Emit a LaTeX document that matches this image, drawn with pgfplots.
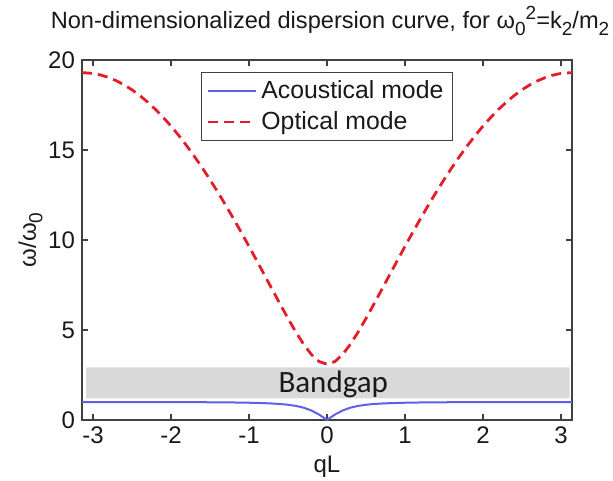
\documentclass[border=0pt]{standalone}
\usepackage{fontspec}
\setmainfont{Liberation Sans}
\newfontfamily\bandfont{Carlito}
\usepackage{pgfplots}
\pgfplotsset{compat=1.18}
\definecolor{acblue}{RGB}{95,95,232}
\definecolor{opred}{RGB}{226,30,40}
\definecolor{gapgray}{RGB}{217,217,217}
\newcommand{\sbs}[1]{\raisebox{-3.2pt}{\fontsize{9.5}{11}\selectfont #1}}
\newcommand{\sps}[1]{\raisebox{4.5pt}{\fontsize{9.5}{11}\selectfont #1}}
\begin{document}
\begin{tikzpicture}
\begin{axis}[
  scale only axis,
  width=245pt, height=180pt,
  xmin=-3.14159, xmax=3.14159,
  ymin=0, ymax=20,
  xtick={-3,-2,-1,0,1,2,3},
  ytick={0,5,10,15,20},
  tick align=inside,
  major tick length=3pt,
  axis line style={black!75, line width=0.6pt},
  tick style={black!75, line width=0.6pt},
  /pgf/number format/assume math mode=true,
  tick label style={font=\fontsize{12}{14}\selectfont, text=black!90},
  xlabel={qL},
  ylabel={ω/ω\sbs{0}},
  xlabel style={yshift=1pt},
  ylabel style={yshift=-4pt},
  label style={font=\fontsize{12}{14}\selectfont, text=black!90},
  title={Non-dimensionalized dispersion curve, for ω\sbs{0}\sps{2}=k\sbs{2}/m\sbs{2}},
  title style={at={(axis description cs:0.5,1)}, anchor=base, yshift=9.5pt, xshift=1.5pt, font=\fontsize{11.8}{14}\selectfont, text=black!90},
  legend style={at={(axis description cs:0.5,0.967)}, anchor=north, draw=black!75, line width=0.6pt,
    font=\fontsize{12.4}{14.5}\selectfont, inner xsep=2.5pt, inner ysep=2pt, row sep=1pt, text=black!90},
  legend cell align=left,
  legend image code/.code={\draw[#1] (0pt,0pt) -- (24pt,0pt);},
]
\addplot[fill=gapgray, draw=none, forget plot] coordinates {(-3.09,1.2) (3.11,1.2) (3.11,2.92) (-3.09,2.92) (-3.09,1.2)};
\addplot[acblue, line width=1pt] coordinates {
(-3.1416,1.000) (-2.8,1.000) (-2.4,0.998) (-2.0,0.995) (-1.8,0.992) (-1.6,0.988) (-1.4,0.982) (-1.2,0.974)
(-1.0,0.959) (-0.9,0.949) (-0.8,0.935) (-0.7,0.915) (-0.6,0.888) (-0.5,0.847) (-0.4,0.784) (-0.3,0.685)
(-0.2,0.530) (-0.1,0.298) (-0.05,0.154) (0,0)
(0.05,0.154) (0.1,0.298) (0.2,0.530) (0.3,0.685) (0.4,0.784) (0.5,0.847) (0.6,0.888) (0.7,0.915)
(0.8,0.935) (0.9,0.949) (1.0,0.959) (1.2,0.974) (1.4,0.982) (1.6,0.988) (1.8,0.992) (2.0,0.995)
(2.4,0.998) (2.8,1.000) (3.1416,1.000)};
\addlegendentry{Acoustical mode}
\addplot[opred, line width=1.4pt, dash pattern=on 5pt off 3pt] coordinates {
(-3.1416,19.300) (-3.0,19.253) (-2.9,19.163) (-2.8,19.026) (-2.7,18.844) (-2.6,18.615) (-2.5,18.342)
(-2.4,18.023) (-2.3,17.662) (-2.2,17.258) (-2.1,16.812) (-2.0,16.327) (-1.9,15.802) (-1.8,15.240)
(-1.7,14.643) (-1.6,14.013) (-1.5,13.350) (-1.4,12.657) (-1.3,11.938) (-1.2,11.194) (-1.1,10.428)
(-1.0,9.645) (-0.9,8.847) (-0.8,8.040) (-0.7,7.230) (-0.6,6.427) (-0.5,5.641) (-0.4,4.892)
(-0.3,4.208) (-0.2,3.637) (-0.1,3.243) (0,3.100)
(0.1,3.243) (0.2,3.637) (0.3,4.208) (0.4,4.892) (0.5,5.641) (0.6,6.427) (0.7,7.230) (0.8,8.040)
(0.9,8.847) (1.0,9.645) (1.1,10.428) (1.2,11.194) (1.3,11.938) (1.4,12.657) (1.5,13.350) (1.6,14.013)
(1.7,14.643) (1.8,15.240) (1.9,15.802) (2.0,16.327) (2.1,16.812) (2.2,17.258) (2.3,17.662) (2.4,18.023)
(2.5,18.342) (2.6,18.615) (2.7,18.844) (2.8,19.026) (2.9,19.163) (3.0,19.253) (3.1416,19.300)};
\addlegendentry{Optical mode}
\node[font=\bandfont\fontsize{15.5}{18}\selectfont, text=black!90] at (axis cs:0.08,1.95) {Bandgap};
\end{axis}
\pgfresetboundingbox
\path[use as bounding box] ([shift={(-41pt,-30pt)}]current axis.south west) rectangle ([shift={(20.5pt,30pt)}]current axis.north east);
\end{tikzpicture}
\end{document}
